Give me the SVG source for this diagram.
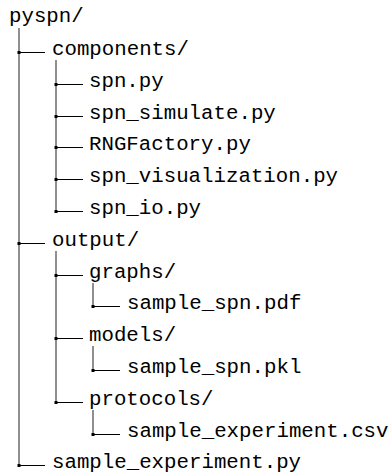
<svg xmlns="http://www.w3.org/2000/svg" width="390" height="474" viewBox="0 0 390 474">
<style>
text{font-family:"Liberation Mono","DejaVu Sans Mono",monospace;font-size:20.75px;fill:#000}
.v{stroke:#333;stroke-width:1.1;fill:none}
.h{stroke:#000;stroke-width:1;fill:none}
.d{fill:#000}
</style>
<rect width="390" height="474" fill="#fff"/>
<g id="connectors">
<line class="v" x1="19" y1="28" x2="19" y2="465.5"/>
<line class="v" x1="56" y1="60" x2="56" y2="211.5"/>
<line class="v" x1="56" y1="251" x2="56" y2="402.5"/>
<line class="v" x1="93" y1="283" x2="93" y2="306.5"/>
<line class="v" x1="93" y1="346" x2="93" y2="370.5"/>
<line class="v" x1="93" y1="410" x2="93" y2="434.5"/>
<path class="h" d="M19 52.5H45M19 243.5H45M19 465.5H45M56 84.5H83M56 116.5H83M56 147.5H83M56 179.5H83M56 211.5H83M56 275.5H83M56 338.5H83M56 402.5H83M93 306.5H120M93 370.5H120M93 434.5H120"/>
<g class="d">
<rect x="17.5" y="51" width="3" height="3"/><rect x="17.5" y="242" width="3" height="3"/><rect x="17.5" y="464" width="3" height="3"/>
<rect x="54.5" y="83" width="3" height="3"/><rect x="54.5" y="115" width="3" height="3"/><rect x="54.5" y="146" width="3" height="3"/><rect x="54.5" y="178" width="3" height="3"/><rect x="54.5" y="210" width="3" height="3"/>
<rect x="54.5" y="274" width="3" height="3"/><rect x="54.5" y="337" width="3" height="3"/><rect x="54.5" y="401" width="3" height="3"/>
<rect x="91.5" y="305" width="3" height="3"/><rect x="91.5" y="369" width="3" height="3"/><rect x="91.5" y="433" width="3" height="3"/>
</g>
</g>
<g id="root"><text x="9" y="21.5">pyspn/</text></g>
<g id="components"><text x="52" y="55">components/</text></g>
<g id="spn_py"><text x="89" y="87">spn.py</text></g>
<g id="spn_simulate"><text x="89" y="119">spn_simulate.py</text></g>
<g id="rngfactory"><text x="89" y="150">RNGFactory.py</text></g>
<g id="spn_visualization"><text x="89" y="182">spn_visualization.py</text></g>
<g id="spn_io"><text x="89" y="214">spn_io.py</text></g>
<g id="output"><text x="52" y="246">output/</text></g>
<g id="graphs"><text x="89" y="278">graphs/</text></g>
<g id="sample_spn_pdf"><text x="127" y="309">sample_spn.pdf</text></g>
<g id="models"><text x="89" y="341">models/</text></g>
<g id="sample_spn_pkl"><text x="127" y="373">sample_spn.pkl</text></g>
<g id="protocols"><text x="89" y="405">protocols/</text></g>
<g id="sample_experiment_csv"><text x="127" y="437">sample_experiment.csv</text></g>
<g id="sample_experiment_py"><text x="52" y="468">sample_experiment.py</text></g>
</svg>
